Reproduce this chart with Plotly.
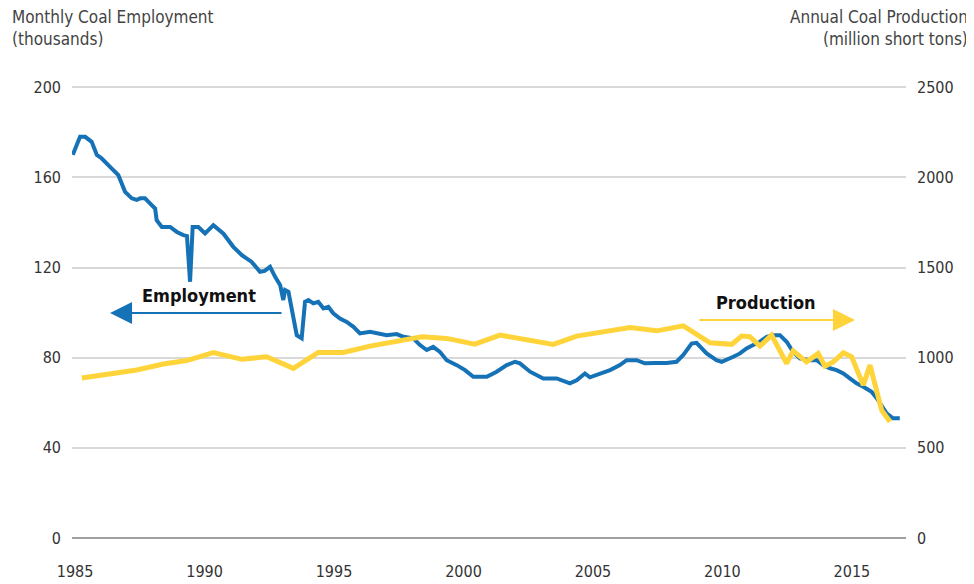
import plotly.graph_objects as go

# monthly coal employment (thousands)
emp_time = [1984.91, 1985.19, 1985.39, 1985.64, 1985.84, 1986.03, 1986.35, 1986.67, 1986.80, 1986.93,
            1987.19, 1987.38, 1987.51, 1987.70, 1987.90, 1988.09, 1988.15, 1988.35, 1988.67, 1988.93,
            1989.18, 1989.32, 1989.44, 1989.54, 1989.76, 1990.02, 1990.34, 1990.73, 1991.11, 1991.44,
            1991.82, 1992.14, 1992.32, 1992.53, 1992.72, 1992.92, 1993.04, 1993.11, 1993.24, 1993.43,
            1993.56, 1993.75, 1993.88, 1994.01, 1994.20, 1994.39, 1994.59, 1994.78, 1994.97, 1995.23,
            1995.49, 1995.75, 1996.00, 1996.39, 1996.65, 1997.03, 1997.42, 1997.68, 1998.06, 1998.32,
            1998.58, 1998.83, 1999.09, 1999.35, 1999.74, 2000.06, 2000.38, 2000.64, 2000.90, 2001.28,
            2001.67, 2001.99, 2002.18, 2002.57, 2003.08, 2003.60, 2004.11, 2004.37, 2004.69, 2004.88,
            2005.27, 2005.66, 2006.04, 2006.30, 2006.69, 2007.00, 2007.40, 2007.85, 2008.23, 2008.49,
            2008.81, 2009.00, 2009.39, 2009.77, 2009.97, 2010.22, 2010.42, 2010.68, 2010.93, 2011.19,
            2011.45, 2011.71, 2011.96, 2012.22, 2012.48, 2012.73, 2012.99, 2013.38, 2013.64, 2013.89,
            2014.15, 2014.41, 2014.67, 2014.92, 2015.18, 2015.44, 2015.76, 2015.96, 2016.19, 2016.34,
            2016.59, 2016.85]
emp_value = [170, 178, 178, 175.8, 170, 168.4, 164.7, 161, 157.3, 153.6,
             150.7, 150, 150.7, 150.7, 148.4, 146.2, 141, 138, 138, 135.8,
             134.4, 134, 113.7, 138, 138, 135.1, 138.8, 135, 129.2, 125.5,
             122.5, 118.1, 118.5, 120.3, 116, 112.2, 105.6, 110, 109.2, 96.7,
             90, 88.6, 104.8, 105.6, 104.1, 104.8, 101.9, 102.6, 99.7, 97.4,
             95.9, 93.7, 90.8, 91.5, 90.8, 90, 90.5, 89.3, 88.6, 85.6,
             83.4, 84.8, 82.6, 78.9, 76.7, 74.5, 71.5, 71.5, 71.5, 73.8,
             76.7, 78.2, 77.5, 73.8, 70.8, 70.8, 68.6, 70, 73, 71.3,
             73, 74.5, 76.7, 78.9, 78.9, 77.5, 77.7, 77.7, 78.2, 81.2,
             86.3, 86.6, 81.9, 78.9, 78.2, 79.7, 80.4, 81.9, 84.1, 85.6,
             87.1, 89.3, 90, 90, 87.1, 82.6, 79.7, 78.9, 78.9, 76.7,
             75.3, 74.5, 73, 70.8, 68.6, 67.1, 64.9, 62, 58.2, 55.3,
             53.1, 53.1]

# coal production (million short tons)
prod_time = [1985.26, 1986.35, 1987.38, 1988.41, 1989.31, 1990.34, 1991.44, 1992.40, 1993.43, 1994.39,
             1995.36, 1996.39, 1997.42, 1998.39, 1999.35, 2000.44, 2001.41, 2002.45, 2003.47, 2004.37,
             2005.39, 2006.43, 2007.46, 2008.49, 2009.52, 2010.36, 2010.74, 2011.06, 2011.45, 2011.90,
             2012.48, 2012.73, 2013.25, 2013.70, 2013.96, 2014.28, 2014.67, 2014.99, 2015.44, 2015.70,
             2016.15, 2016.47]
prod_value = [887, 910, 932, 965, 984, 1028, 991, 1005, 941, 1029,
              1029, 1064, 1088, 1116, 1107, 1075, 1125, 1098, 1074, 1120,
              1145, 1168, 1149, 1177, 1083, 1074, 1120, 1116, 1064, 1125,
              968, 1038, 977, 1024, 953, 977, 1027, 1005, 848, 959,
              709, 645]

year_ticks = [1985, 1990, 1995, 2000, 2005, 2010, 2015]
emp_ticks = [0, 40, 80, 120, 160, 200]
prod_ticks = [0, 500, 1000, 1500, 2000, 2500]

blue = '#1672b6'
yellow = '#ffd43a'
font = 'DejaVu Sans Condensed, sans-serif'

fig = go.Figure()
fig.add_trace(go.Scatter(x=emp_time, y=emp_value, mode='lines', name='Employment',
                         line=dict(color=blue, width=4)))
fig.add_trace(go.Scatter(x=prod_time, y=prod_value, mode='lines', name='Production', yaxis='y2',
                         line=dict(color=yellow, width=5)))

# page body has an 8px margin, so everything is placed 8px up/left of the target
fig.update_layout(
    width=974, height=584,
    margin=dict(l=64, r=76, t=77, b=54),
    plot_bgcolor='white', paper_bgcolor='white',
    showlegend=False,
    font=dict(family=font, size=16, color='#333333'),
    xaxis=dict(range=[1984.88, 2017.09], tickvals=year_ticks, showgrid=False,
               zeroline=False, showline=False, ticks='', ticklabelstandoff=22, automargin=False),
    yaxis=dict(range=[0, 201], tickvals=emp_ticks, showgrid=True,
               gridcolor='#d9d9d9', gridwidth=1.5,
               zeroline=True, zerolinecolor='#a0a0a0', zerolinewidth=2,
               ticks='', ticklabelstandoff=10, automargin=False),
    yaxis2=dict(range=[0, 2512.5], tickvals=prod_ticks, overlaying='y',
                side='right', showgrid=False, zeroline=False, ticks='', ticklabelstandoff=10,
                automargin=False),
)

fig.add_annotation(text='Monthly Coal Employment<br>(thousands)', xref='paper', yref='paper',
                   x=-0.0743, y=1.176, xanchor='left', yanchor='top', align='left',
                   showarrow=False, font=dict(size=17, color='#444444'))
fig.add_annotation(text='Annual Coal Production<br>(million short tons)', xref='paper', yref='paper',
                   x=1.0767, y=1.176, xanchor='right', yanchor='top', align='right',
                   showarrow=False, font=dict(size=17, color='#444444'))

fig.add_annotation(text='<b>Employment</b>', x=1989.79, y=107.8, showarrow=False,
                   font=dict(size=18, color='#111111'))
fig.add_annotation(text='<b>Production</b>', x=2011.68, y=104.7, showarrow=False,
                   font=dict(size=18, color='#111111'))

# direction arrows
fig.add_annotation(x=1986.35, y=99.8, ax=1993.03, ay=99.8, xref='x', yref='y', axref='x', ayref='y',
                   text='', showarrow=True, arrowhead=2, arrowsize=2.2, arrowwidth=2, arrowcolor=blue)
fig.add_annotation(x=2015.12, y=96.7, ax=2009.05, ay=96.7, xref='x', yref='y', axref='x', ayref='y',
                   text='', showarrow=True, arrowhead=2, arrowsize=2.2, arrowwidth=2, arrowcolor=yellow)

fig.write_html('out.html')
